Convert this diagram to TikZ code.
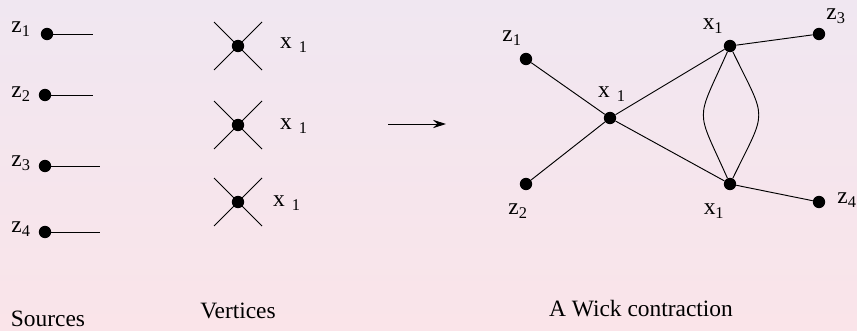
\documentclass[tikz,border=0pt]{standalone}
\usepackage{fontspec}
\setmainfont{Liberation Serif}
\usepackage{tikz}
\usetikzlibrary{arrows.meta, positioning, calc}
\usepackage{xcolor}
\definecolor{bgtop}{HTML}{F0E7F1}
\definecolor{bgbot}{HTML}{FAE4E9}

\newcommand{\zlab}[1]{z\textsubscript{#1}}
\newcommand{\xlab}{x\hspace{0.3em}\textsubscript{1}}

\begin{document}
\begin{tikzpicture}[
    x=0.03cm, y=0.03cm,
    dot/.style={circle, fill=black, minimum size=0.37cm, inner sep=0},
    lbl/.style={inner sep=0, font=\fontsize{20}{24}\selectfont},
    captxt/.style={inner sep=0, font=\fontsize{20}{24}\selectfont},
    leg/.style={line width=0.8pt},
    >=Stealth
]
\useasboundingbox (0,0) rectangle (857,330);
\shade[top color=bgtop, bottom color=bgbot] (0,0) rectangle (857,330);

% Sources
\node[dot] (s1) at (47,296) {};
\node[dot] (s2) at (45,235) {};
\node[dot] (s3) at (45,164) {};
\node[dot] (s4) at (45,98) {};
\coordinate (e1) at (93,296);
\coordinate (e2) at (93,235);
\coordinate (e3) at (100,164);
\coordinate (e4) at (100,98);
\foreach \i in {1,...,4} \draw[leg] (s\i) -- (e\i);
\node[lbl] (zs1) at (21,301) {\zlab{1}};
\node[lbl] (zs2) at (21,236) {\zlab{2}};
\node[lbl] (zs3) at (21,167) {\zlab{3}};
\node[lbl] (zs4) at (21,101) {\zlab{4}};

% Vertices
\node[dot] (v1) at (238,284) {};
\node[dot] (v2) at (238,205) {};
\node[dot] (v3) at (238,128) {};
\foreach \i in {1,2,3} {
    \coordinate (a\i) at ($(v\i)+(-24,24)$);
    \coordinate (b\i) at ($(v\i)+(24,-24)$);
    \coordinate (c\i) at ($(v\i)+(-24,-24)$);
    \coordinate (d\i) at ($(v\i)+(24,24)$);
    \draw[leg] (a\i) -- (b\i);
    \draw[leg] (c\i) -- (d\i);
}
\node[lbl] (xv1) at (294,285) {\xlab};
\node[lbl] (xv2) at (294,204) {\xlab};
\node[lbl] (xv3) at (287,127) {\xlab};

% arrow
\coordinate (p) at (388,206);
\coordinate (q) at (446,206);
\draw[leg, ->, >={Stealth[length=11pt, width=7pt]}] (p) -- (q);

% Wick contraction
\node[dot] (w1) at (526,271) {};
\node[dot] (w2) at (526,146) {};
\node[dot] (wc) at (610,212) {};
\node[dot] (wt) at (730,284) {};
\node[dot] (wb) at (730,146) {};
\node[dot] (w3) at (819,296) {};
\node[dot] (w4) at (819,128) {};
\draw[leg] (w1) -- (wc) -- (wb) -- (w4);
\draw[leg] (w2) -- (wc) -- (wt) -- (w3);
\draw[leg] (wt) to[out=-114, in=114, looseness=1.6] (wb);
\draw[leg] (wt) to[out=-64, in=64, looseness=1.6] (wb);
\node[lbl] (zw1) at (512,292) {\zlab{1}};
\node[lbl] (zw2) at (518,119) {\zlab{2}};
\node[lbl] (xwc) at (612,236) {\xlab};
\node[lbl] (xwt) at (713,304) {x\textsubscript{1}};
\node[lbl] (xwb) at (714,119) {x\textsubscript{1}};
\node[lbl] (zw3) at (836,314) {\zlab{3}};
\node[lbl] (zw4) at (847,130) {\zlab{4}};

% captions
\node[captxt] (cs) at (48,11) {Sources};
\node[captxt] (cv) at (238,19) {Vertices};
\node[captxt] (cw) at (641,21) {A Wick contraction};
\end{tikzpicture}
\end{document}
